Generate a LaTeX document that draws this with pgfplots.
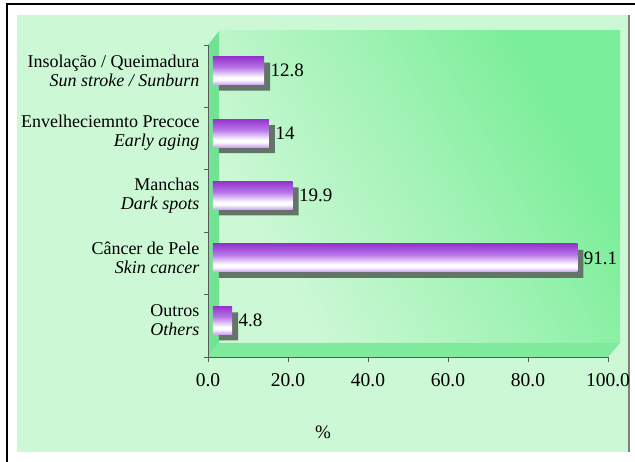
\documentclass[border=0pt]{standalone}
\usepackage{fontspec}
\setmainfont{Liberation Serif}
\usepackage{pgfplots}
\pgfplotsset{compat=1.18}
\definecolor{panel}{RGB}{205,248,214}
\definecolor{wallA}{RGB}{204,248,213}
\definecolor{wallM}{RGB}{165,243,184}
\definecolor{wallB}{RGB}{122,238,152}
\definecolor{floorc}{RGB}{128,234,156}
\definecolor{sidec}{RGB}{112,228,146}
\definecolor{barTop}{RGB}{148,52,206}
\definecolor{barMid}{RGB}{184,118,232}
\definecolor{barBot}{RGB}{206,160,240}
\definecolor{shadowc}{RGB}{100,116,104}
\definecolor{axc}{RGB}{90,90,90}
\pgfdeclareverticalshading{barshade}{100bp}{color(0bp)=(barBot); color(25bp)=(barBot); color(34bp)=(white); color(38bp)=(white); color(56bp)=(barMid); color(75bp)=(barTop); color(100bp)=(barTop)}
\pgfdeclarehorizontalshading{wallshade}{100bp}{color(0bp)=(wallA); color(28bp)=(wallA); color(50bp)=(wallM); color(72bp)=(wallB); color(100bp)=(wallB)}
\pgfplotsset{
  mainbar/.style={draw=none, shade, shading=barshade, xshift=5pt, yshift=5.5pt,
    nodes near coords, point meta=explicit symbolic,
    nodes near coords style={anchor=west, xshift=3pt, font=\fontsize{19}{21}\selectfont, text=black}},
}
\begin{document}
\begin{tikzpicture}[x=1pt,y=1pt]
\path[use as bounding box] (0,0) rectangle (635,462);
\fill[panel] (17,10) rectangle (628,447);
\draw[gray, line width=1.5] (629,10) -- (629,447);
\shade[shading=wallshade, shading angle=30] (219,119) rectangle (620,431);
\fill[sidec] (208,105) -- (208,417) -- (219,431) -- (219,119) -- cycle;
\fill[floorc] (208,105) -- (608,105) -- (620,119) -- (219,119) -- cycle;
\draw[black, line width=2.5] (7,0) -- (7,458) -- (635,458);
\begin{axis}[
  at={(208pt,105pt)}, anchor=south west,
  scale only axis, width=400pt, height=312pt,
  xmin=0, xmax=100, ymin=-0.5, ymax=4.5,
  xbar, bar width=28pt, bar shift=0pt,
  axis x line*=bottom, axis y line*=left,
  axis line style={draw=axc, line width=0.8pt},
  xtick={0,20,...,100},
  xticklabels={0.0,20.0,40.0,60.0,80.0,100.0},
  ytick={0,...,4},
  yticklabels={{Outros\\\textit{Others}},{Câncer de Pele\\\textit{Skin cancer}},{Manchas\\\textit{Dark spots}},{Envelheciemnto Precoce\\\textit{Early aging}},{Insolação / Queimadura\\\textit{Sun stroke / Sunburn}}},
  minor ytick={-0.5,0.5,...,4.5},
  tick align=outside, major tick length=5pt, minor tick length=4pt,
  major y tick style={draw=none},
  minor y tick style={draw=axc, line width=0.8pt},
  major x tick style={draw=axc, line width=0.8pt},
  tick label style={text=black},
  yticklabel style={align=right, yshift=5.5pt, font=\fontsize{18}{19}\selectfont},
  xticklabel style={yshift=-8pt, font=\fontsize{19.5}{21}\selectfont},
  xlabel={\%},
  xlabel style={at={(axis description cs:0.2875,-0.24)}, anchor=center, font=\fontsize{19}{21}\selectfont},
  clip=false,
]
\addplot[draw=none, fill=shadowc, xshift=11pt, yshift=-0.5pt]
  coordinates {(4.8,0) (91.1,1) (19.9,2) (14,3) (12.8,4)};
\addplot[mainbar] coordinates {(4.8,0)[4.8]};
\addplot[mainbar] coordinates {(91.1,1)[91.1]};
\addplot[mainbar] coordinates {(19.9,2)[19.9]};
\addplot[mainbar] coordinates {(14,3)[14]};
\addplot[mainbar] coordinates {(12.8,4)[12.8]};
\end{axis}
\end{tikzpicture}
\end{document}
